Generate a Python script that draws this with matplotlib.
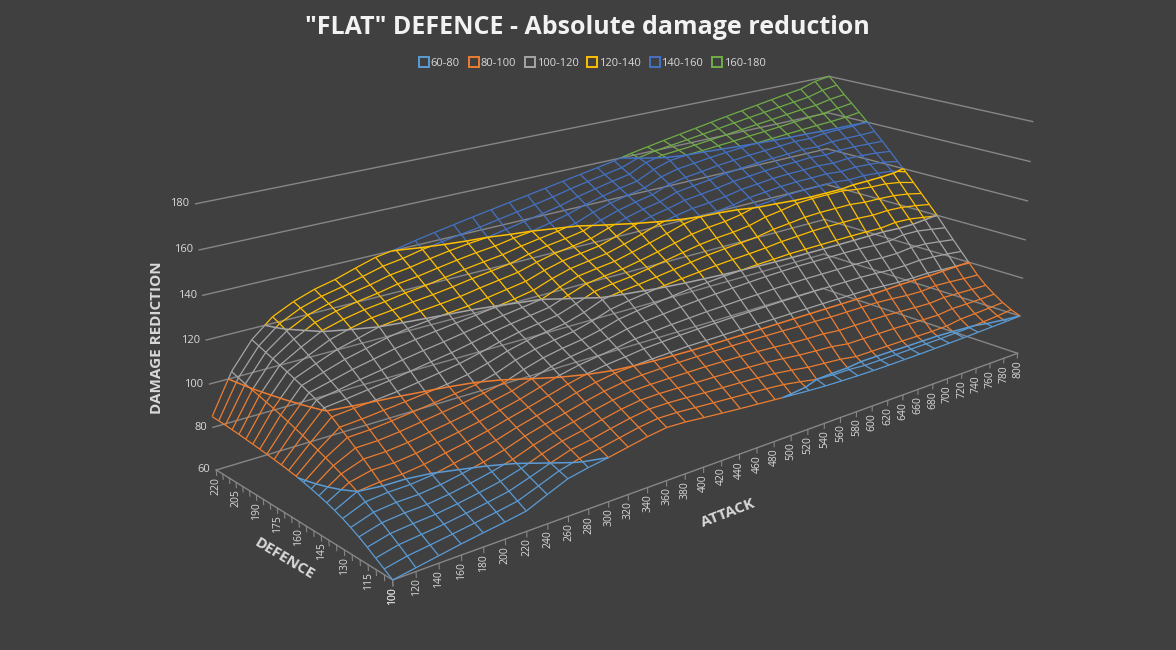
import numpy as np
import matplotlib
matplotlib.use("Agg")
import matplotlib.pyplot as plt
from matplotlib.lines import Line2D
from mpl_toolkits.mplot3d import proj3d
from mpl_toolkits.mplot3d.art3d import Line3DCollection

plt.rcParams["font.family"] = ["Open Sans", "DejaVu Sans"]

# ------------------------------------------------
# DATA
# ------------------------------------------------

attack = [100, 120, 140, 160, 180, 200, 220, 240, 260, 280, 300, 320,
          340, 360, 380, 400, 420, 440, 460, 480, 500, 520, 540, 560,
          580, 600, 620, 640, 660, 680, 700, 720, 740, 760, 780, 800]
defence = [100, 105, 110, 115, 120, 125, 130, 135, 140, 145, 150, 155, 160,
           165, 170, 175, 180, 185, 190, 195, 200, 205, 210, 215, 220]
defence_labels = [100, 115, 130, 145, 160, 175, 190, 205, 220]
z_labels = [60, 80, 100, 120, 140, 160, 180]

bands = ["60-80", "80-100", "100-120", "120-140", "140-160", "160-180"]
band_colors = ["#5B9BD5", "#ED7D31", "#A5A5A5", "#FFC000", "#4472C4", "#70AD47"]
band_edges = [80, 100, 120, 140, 160]

# damage reduction for each attack value, defence 100 -> 220
dr_100 = [60, 62.5, 65, 67.5, 69.8, 71.8, 73.6, 75.1, 76.4, 77.5, 78.5, 79.4, 80.2,
          80.8, 81.4, 81.9, 82.4, 82.8, 83.2, 83.6, 84, 84.3, 84.6, 84.8, 85]
dr_120 = [61.6, 64.5, 67.2, 69.9, 72.5, 75, 77.5, 80, 82, 83.8, 85.5, 87.1, 88.6,
          90, 91.4, 92.7, 94, 95.2, 96.4, 97.5, 98.6, 99.6, 100.6, 101.8, 103]
dr_140 = [63.2, 65.7, 68.2, 70.8, 73.4, 76, 78.4, 81, 84.2, 87.2, 90.2, 93, 95.7,
          98.5, 100.8, 102.5, 104.1, 105.6, 107, 108.4, 109.8, 111.1, 112.4, 113.7, 115]
dr_160 = [64.8, 67, 69.2, 71.5, 73.8, 76.2, 78.6, 81.2, 84.3, 87.4, 90.4, 93.4, 96.4,
          99.4, 101.9, 104.2, 106.5, 108.8, 111, 113.2, 115.3, 117.4, 119.5, 121.4, 123]
dr_180 = [66.2, 68.4, 70.6, 72.8, 75, 77.3, 79.6, 82.4, 85.4, 88.4, 91.4, 94.4, 97.4,
          100.3, 103.2, 106.1, 109, 111.9, 114.8, 117.6, 120.3, 122.4, 124.3, 126, 127.5]
dr_200 = [67.5, 69.8, 72.1, 74.4, 76.7, 79, 81.6, 84.4, 87.2, 90, 92.8, 95.6, 98.4,
          101.3, 104.5, 107.7, 111, 114.2, 117.4, 120.4, 122.9, 125.1, 127.1, 129, 130.8]
dr_220 = [69, 71.4, 73.8, 76.2, 78.6, 81, 83.6, 86.2, 88.9, 91.5, 94.2, 96.8, 99.5,
          102.7, 106.1, 109.6, 113.1, 116.5, 120, 122.6, 124.8, 127, 129.1, 131.1, 133]
dr_240 = [73, 74.9, 76.8, 78.8, 81, 83.4, 85.8, 88.3, 90.7, 93.2, 95.6, 98.1, 100.7,
          104.2, 107.7, 111.2, 114.7, 118.2, 121.2, 123.7, 126.1, 128.5, 131, 133.5, 136]
dr_260 = [76.8, 78.4, 80, 82.2, 84.3, 86.5, 88.6, 90.8, 92.9, 95.1, 97.2, 99.4, 102.4,
          105.8, 109.2, 112.6, 116, 119.3, 122.2, 125, 127.7, 130.5, 133.3, 136, 138.8]
dr_280 = [78.6, 80.8, 82.9, 84.9, 86.9, 89, 91, 93.1, 95.1, 97.1, 99.2, 101.8, 104.9,
          108, 111.1, 114.2, 117.2, 120.3, 123.1, 126, 128.8, 131.7, 134.6, 137.4, 140.3]
dr_300 = [80, 82.2, 84.4, 86.7, 88.9, 91.1, 93.3, 95.6, 97.8, 100, 102.6, 105.3, 107.9,
          110.5, 113.2, 115.8, 118.4, 121.2, 124.2, 127.3, 130.3, 133.3, 136.4, 139.4, 142.3]
dr_320 = [81.7, 84, 86.4, 88.7, 91.1, 93.4, 95.8, 98.1, 100.5, 102.9, 105.3, 107.7, 110.1,
          112.5, 114.9, 117.3, 119.7, 122.7, 125.8, 128.8, 131.8, 134.8, 137.9, 140.9, 144]
dr_340 = [83.4, 85.8, 88.2, 90.6, 93, 95.4, 97.8, 100.2, 102.5, 104.8, 107.1, 109.4, 111.7,
          114, 116.3, 118.6, 121.2, 124.2, 127.2, 130.1, 133.1, 136.1, 139.1, 142.3, 145.6]
dr_360 = [84.6, 87, 89.5, 91.9, 94.4, 96.8, 99.3, 101.6, 103.9, 106.2, 108.5, 110.8, 113.1,
          115.4, 117.7, 120, 122.9, 125.7, 128.6, 131.4, 134.3, 137.1, 140, 143.6, 147.2]
dr_380 = [84.2, 86.8, 89.5, 92.1, 94.7, 97.4, 100, 102.6, 105.3, 107.9, 110.5, 113.2, 115.8,
          118.4, 121, 123.5, 126.1, 128.6, 131.1, 133.7, 136.2, 138.7, 141.7, 145.2, 148.7]
dr_400 = [83.3, 86.2, 89.1, 91.9, 94.8, 97.7, 100.6, 103.8, 106.9, 110, 113.1, 116.3, 119.4,
          121.8, 124.1, 126.4, 128.6, 130.9, 133.2, 135.5, 137.7, 140, 143.4, 146.8, 150.2]
dr_420 = [82.5, 85.6, 88.6, 91.7, 94.8, 97.9, 101, 104.4, 107.8, 111.2, 114.6, 118, 120.9,
          123.2, 125.5, 127.7, 130, 132.3, 134.5, 136.8, 139.1, 141.9, 145.2, 148.4, 151.7]
dr_440 = [81.7, 85, 88.2, 91.5, 94.8, 98, 101.4, 105, 108.6, 112.1, 115.7, 119.3, 121.9,
          124.2, 126.6, 128.9, 131.3, 133.6, 136, 138.4, 140.9, 144, 147, 150.1, 153.2]
dr_460 = [81, 84.4, 87.8, 91.2, 94.6, 98, 101.5, 105.4, 109.2, 113.1, 116.9, 120.5, 123.2,
          125.8, 128.4, 131.1, 133.7, 136.3, 139, 141.6, 144.2, 146.8, 149.5, 152.1, 154.7]
dr_480 = [80.3, 83.8, 87.3, 90.8, 94.4, 97.9, 101.6, 105.7, 109.8, 113.9, 118, 121.5, 124.5,
          127.5, 130.4, 133.4, 136.4, 139.4, 141.9, 144.3, 146.7, 149, 151.4, 153.8, 156.2]
dr_500 = [79.6, 83, 86.7, 90.4, 94.1, 97.8, 101.7, 106, 110.2, 114.5, 118.7, 122.4, 125.8,
          129.2, 132.5, 135.9, 139.3, 141.8, 144.1, 146.4, 148.6, 150.9, 153.2, 155.4, 157.7]
dr_520 = [79, 81.6, 85.6, 89.6, 93.6, 97.6, 101.8, 106.2, 110.6, 115, 119.4, 123.3, 127.1,
          130.9, 134.7, 138.5, 141.3, 143.6, 145.8, 148.1, 150.3, 152.5, 154.8, 157, 159.3]
dr_540 = [78.5, 80, 84.3, 88.7, 93, 97.4, 101.8, 106.4, 110.9, 115.5, 120, 124, 128,
          132, 136, 140, 142.9, 145.7, 148.6, 151.4, 153.9, 156.4, 158.8, 160.1, 161.2]
dr_560 = [78.2, 79.5, 83.6, 88.1, 92.6, 97.1, 101.9, 106.6, 111.3, 116, 120.6, 124.6, 128.7,
          132.7, 136.8, 140.6, 143.7, 146.8, 149.8, 152.9, 156, 159.1, 160.7, 161.7, 162.7]
dr_580 = [78, 79.4, 82.9, 87.6, 92.4, 97.1, 101.9, 106.7, 111.5, 116.3, 121, 125.3, 129.6,
          133.9, 138.3, 141.8, 144.8, 147.9, 150.9, 153.9, 157, 160, 161.4, 162.8, 164.2]
dr_600 = [77.9, 78.8, 81.6, 86.4, 91.6, 96.8, 102, 106.8, 111.7, 116.6, 121.5, 126.3, 131.2,
          136.1, 140.6, 143.5, 146.4, 149.3, 152.2, 155.1, 158, 160.5, 162.2, 163.9, 165.6]
dr_620 = [77.9, 78.8, 81.6, 86.4, 91.6, 96.8, 102, 106.8, 111.7, 116.6, 121.6, 126.8, 132.1,
          137.4, 141.4, 144.3, 147.2, 150.1, 153, 155.9, 158.8, 161.2, 163.1, 165, 167]
dr_640 = [78, 78.9, 81.6, 86.4, 91.6, 96.8, 102, 106.8, 111.7, 116.6, 121.7, 127.4, 133.1,
          138.9, 142.3, 145.2, 148.1, 150.9, 153.8, 156.7, 159.5, 161.8, 164, 166.2, 168.4]
dr_660 = [78.1, 79, 81.6, 86.4, 91.6, 96.8, 102, 106.8, 111.7, 116.6, 121.8, 127.6, 133.5,
          139.4, 142.6, 145.6, 148.5, 151.4, 154.3, 157.2, 160.1, 162.6, 165, 167.4, 169.8]
dr_680 = [78.3, 79.1, 81.5, 86.2, 91.2, 96.3, 101.5, 106.5, 111.5, 116.5, 121.8, 127.6, 133.5,
          139.4, 142.7, 145.7, 148.7, 151.7, 154.7, 157.8, 160.7, 163.3, 165.9, 168.5, 171.1]
dr_700 = [78.5, 79.2, 81.4, 86, 90.8, 95.6, 101, 106, 111, 116, 121.8, 127.6, 133.5,
          139.4, 142.8, 145.9, 149, 152.2, 155.3, 158.4, 161.2, 164, 166.8, 169.6, 172.4]
dr_720 = [78.7, 79.5, 81.6, 85.9, 90.5, 95.3, 101, 106, 111, 116, 121.6, 127.1, 132.7,
          138.2, 142, 145.2, 148.5, 151.7, 154.9, 158.2, 161.8, 164.8, 167.8, 170.7, 173.7]
dr_740 = [79, 79.8, 82.8, 86.8, 91.2, 96, 101.1, 106.5, 111.9, 117.3, 122.5, 127.5, 132.5,
          137.5, 142.3, 145.7, 149.1, 152.4, 155.8, 159.1, 162.3, 165.5, 168.7, 171.8, 175]
dr_760 = [79.3, 80.4, 83.2, 86.8, 91, 95.6, 100.6, 106.1, 111.6, 117.1, 122.2, 127.1, 132.1,
          137.2, 141.7, 145.3, 148.8, 152.4, 155.9, 159.4, 162.7, 166, 169.4, 172.8, 176.2]
dr_780 = [79.6, 81, 83.6, 86.9, 90.7, 95, 100.2, 105.4, 110.6, 115.9, 121, 126, 131,
          136, 140.9, 144.6, 148.3, 152.1, 155.8, 159.5, 163.3, 167.2, 171, 174.9, 178.8]
dr_800 = [80, 81.8, 84.2, 87.2, 90.5, 94.6, 99.6, 104.5, 109.5, 114.6, 119.8, 124.6, 129.3,
          134, 138.6, 143, 147.4, 151.8, 156, 160.3, 164.3, 168.2, 172, 176.2, 180]

columns = [dr_100, dr_120, dr_140, dr_160, dr_180, dr_200, dr_220, dr_240, dr_260,
           dr_280, dr_300, dr_320, dr_340, dr_360, dr_380, dr_400, dr_420, dr_440,
           dr_460, dr_480, dr_500, dr_520, dr_540, dr_560, dr_580, dr_600, dr_620,
           dr_640, dr_660, dr_680, dr_700, dr_720, dr_740, dr_760, dr_780, dr_800]

Z = np.array(columns, dtype=float).T          # rows = defence, cols = attack
X, Y = np.meshgrid(attack, defence)

# ------------------------------------------------
# STYLE
# ------------------------------------------------

W, H = 1176, 650
BG = "#404040"
TXT = "#D9D9D9"
GRID = "#868686"

fig = plt.figure(figsize=(W / 100, H / 100), dpi=100, facecolor=BG)
ax = fig.add_axes([0, 0, 1, 1], projection="3d", facecolor=BG)
ax.set_proj_type("persp", focal_length=0.4)
ax.view_init(elev=18.5, azim=-131)
ax.set_box_aspect((779, 282, 248))
ax.set_xlim(100, 800)
ax.set_ylim(100, 220)
ax.set_zlim(60, 180)
ax.set_axis_off()
ax.computed_zorder = False

a0, a1 = attack[0], attack[-1]
d0, d1 = defence[0], defence[-1]
z0 = z_labels[0]

# ------------------------------------------------
# WALLS, AXES, TICK MARKS
# ------------------------------------------------

for zv in z_labels:
    ax.plot([a0, a1], [d1, d1], [zv, zv], color=GRID, lw=1.0, zorder=1)
    ax.plot([a1, a1], [d1, d0], [zv, zv], color=GRID, lw=1.0, zorder=1)

ax.plot([a0, a1], [d0, d0], [z0, z0], color=GRID, lw=1.0, zorder=1)
ax.plot([a0, a0], [d0, d1], [z0, z0], color=GRID, lw=1.0, zorder=1)

for a in attack:
    ax.plot([a, a], [d0, d0], [z0, z0 - 2.5], color=GRID, lw=0.8, zorder=1)
for d in defence:
    ax.plot([a0, a0], [d, d], [z0, z0 - 2.5], color=GRID, lw=0.8, zorder=1)

# ------------------------------------------------
# WIREFRAME, COLOURED BY BAND
# ------------------------------------------------

segments = []
seg_colors = []


def band_color(z):
    i = int((z - 60) // 20)
    return band_colors[min(max(i, 0), len(band_colors) - 1)]


def add_line(xs, ys, zs):
    for i in range(len(zs) - 1):
        p0 = np.array([xs[i], ys[i], zs[i]], dtype=float)
        p1 = np.array([xs[i + 1], ys[i + 1], zs[i + 1]], dtype=float)
        cuts = [0.0, 1.0]
        for lv in band_edges:
            if (zs[i] - lv) * (zs[i + 1] - lv) < 0:
                cuts.append((lv - zs[i]) / (zs[i + 1] - zs[i]))
        cuts.sort()
        for ca, cb in zip(cuts[:-1], cuts[1:]):
            q0 = p0 + (p1 - p0) * ca
            q1 = p0 + (p1 - p0) * cb
            segments.append([q0, q1])
            seg_colors.append(band_color((q0[2] + q1[2]) / 2))


for j in range(len(defence)):
    add_line(attack, [defence[j]] * len(attack), Z[j, :])
for i in range(len(attack)):
    add_line([attack[i]] * len(defence), defence, Z[:, i])

mesh = Line3DCollection(segments, colors=seg_colors, linewidths=0.9)
mesh.set_zorder(2)
ax.add_collection3d(mesh)

ax.contour(X, Y, Z, levels=band_edges, colors=band_colors[:5],
           linewidths=1.1, zorder=3)

# ------------------------------------------------
# FIT THE 3D BOX ONTO THE PICTURE
# ------------------------------------------------


def to_screen(x, y, z):
    xs, ys, _ = proj3d.proj_transform(x, y, z, ax.get_proj())
    return ax.transData.transform((xs, ys))


corners = [(a0, d0, 60), (a1, d0, 60), (a0, d1, 60),
           (a0, d1, 180), (a1, d1, 180), (a1, d0, 180)]
targets = [(390, 578), (1017, 353), (215, 468),
           (197, 207), (830, 76), (1035, 123)]

fig.canvas.draw()
pts = np.array([to_screen(*c) for c in corners])
tgt = np.array([(tx, H - ty) for tx, ty in targets], dtype=float)

bb = ax.get_position()
side = bb.width * W
centre = np.array([(bb.x0 + bb.width / 2) * W, (bb.y0 + bb.height / 2) * H])
q = pts - centre
qm, tm = q.mean(axis=0), tgt.mean(axis=0)
k = ((q - qm) * (tgt - tm)).sum() / ((q - qm) ** 2).sum()
new_centre = tm - k * qm
new_side = side * k
ax.set_position([(new_centre[0] - new_side / 2) / W, (new_centre[1] - new_side / 2) / H,
                 new_side / W, new_side / H])
fig.canvas.draw()

# ------------------------------------------------
# TICK LABELS (placed at the projected tick positions)
# ------------------------------------------------

for zv in z_labels:
    px, py = to_screen(a0, d1, zv)
    fig.text((px - 6) / W, py / H, str(zv), ha="right", va="center",
             color=TXT, fontsize=8)

for a in attack:
    px, py = to_screen(a, d0, z0)
    fig.text(px / W, (py - 7) / H, str(a), rotation=90, ha="center", va="top",
             color=TXT, fontsize=7.5)

for d in defence_labels:
    px, py = to_screen(a0, d, z0)
    fig.text(px / W, (py - 7) / H, str(d), rotation=90, ha="center", va="top",
             color=TXT, fontsize=7.5)

# ------------------------------------------------
# TITLES AND LEGEND
# ------------------------------------------------

fig.text(0.4996, 1 - 27 / H, '"FLAT" DEFENCE - Absolute damage reduction',
         ha="center", va="center", fontsize=18, weight="bold", color="#F2F2F2")

fig.text(157 / W, 1 - 338 / H, "DAMAGE REDICTION", rotation=90, ha="center",
         va="center", fontsize=11, weight="bold", color=TXT)
fig.text(285 / W, 1 - 559 / H, "DEFENCE", rotation=-31, ha="center",
         va="center", fontsize=11, weight="bold", color=TXT)
fig.text(728 / W, 1 - 513 / H, "ATTACK", rotation=21, ha="center",
         va="center", fontsize=11, weight="bold", color=TXT)

handles = [Line2D([], [], marker="s", markersize=7, markerfacecolor="none",
                  markeredgecolor=c, markeredgewidth=1.4, linestyle="None")
           for c in band_colors]
fig.legend(handles, bands, loc="center", bbox_to_anchor=(593 / W, 1 - 63 / H),
           ncol=6, frameon=False, fontsize=8, labelcolor=TXT,
           handlelength=0.7, handletextpad=0.25, columnspacing=0.9)

fig.savefig("out.png", dpi=100, facecolor=BG)
